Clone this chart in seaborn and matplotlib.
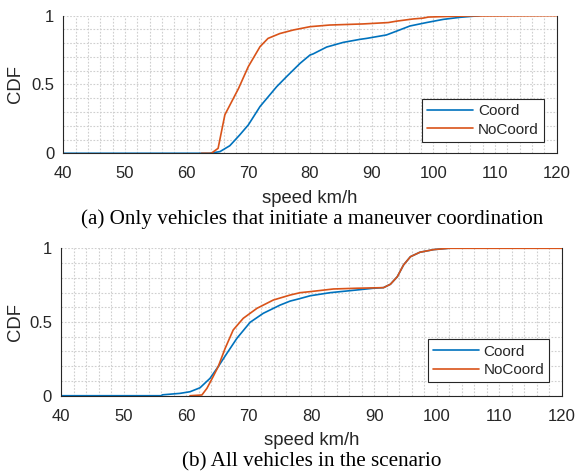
import numpy as np
import pandas as pd
import matplotlib
matplotlib.use("Agg")
import matplotlib.pyplot as plt
import seaborn as sns
from matplotlib.ticker import MultipleLocator

sns.set_theme(style="white")
plt.rcParams['font.family'] = ['Liberation Sans', 'DejaVu Sans']

# (a) vehicles that initiate a maneuver coordination
a_coord_speed = [40, 63.7, 65.4, 67.0, 68.6, 70.0, 71.9, 74.6, 76.2, 78.4, 80.0, 80.5, 82.7, 85.4,
                 88.1, 89.2, 92.4, 94.0, 96.2, 98.9, 101.6, 104.3, 107.0, 107.5]
a_coord_cdf = [0, 0, 0.012, 0.055, 0.133, 0.206, 0.34, 0.484, 0.557, 0.654, 0.714, 0.722, 0.772, 0.806,
               0.828, 0.835, 0.86, 0.887, 0.925, 0.95, 0.973, 0.988, 0.998, 1.0]
a_nocoord_speed = [62.4, 64.0, 65.1, 66.2, 68.4, 70.0, 71.9, 73.2, 75.1, 77.3, 80.0, 83.2, 88.6, 92.7,
                   94.0, 96.7, 98.3, 99.2, 102.0, 105.9, 120]
a_nocoord_cdf = [0, 0, 0.036, 0.28, 0.47, 0.63, 0.775, 0.835, 0.87, 0.896, 0.92, 0.932, 0.94, 0.95,
                 0.96, 0.976, 0.982, 0.99, 0.994, 0.998, 1.0]

# (b) all vehicles in the scenario
b_coord_speed = [40, 56.0, 56.2, 59.0, 60.6, 62.2, 63.8, 65.1, 66.5, 68.1, 70.2, 72.3, 75.0, 76.6,
                 77.9, 79.8, 83.0, 87.2, 89.9, 91.5, 92.6, 93.7, 94.7, 95.8, 97.3, 99.5, 101.9]
b_coord_cdf = [0, 0, 0.006, 0.016, 0.027, 0.054, 0.118, 0.197, 0.288, 0.39, 0.498, 0.559, 0.615, 0.642,
               0.656, 0.678, 0.699, 0.717, 0.729, 0.733, 0.756, 0.807, 0.887, 0.943, 0.973, 0.991, 1.0]
b_nocoord_speed = [60.6, 62.5, 63.3, 64.3, 65.1, 66.2, 67.5, 69.1, 71.3, 73.9, 76.6, 78.2, 79.8, 83.5,
                   87.2, 91.5, 92.6, 93.7, 94.7, 95.8, 97.3, 99.5, 101.9, 120]
b_nocoord_cdf = [0, 0.005, 0.05, 0.13, 0.197, 0.32, 0.446, 0.525, 0.593, 0.649, 0.683, 0.699, 0.706, 0.724,
                 0.729, 0.733, 0.756, 0.807, 0.887, 0.943, 0.973, 0.991, 1.0, 1.0]

captions = ["(a) Only vehicles that initiate a maneuver coordination",
            "(b) All vehicles in the scenario"]

colors = {'Coord': '#0072BD', 'NoCoord': '#D95319'}
tick_col = '#262626'


def make_df(cs, cc, ns, nc):
    d1 = pd.DataFrame({'speed': cs, 'cdf': cc, 'series': 'Coord'})
    d2 = pd.DataFrame({'speed': ns, 'cdf': nc, 'series': 'NoCoord'})
    return pd.concat([d1, d2], ignore_index=True)


panels = [make_df(a_coord_speed, a_coord_cdf, a_nocoord_speed, a_nocoord_cdf),
          make_df(b_coord_speed, b_coord_cdf, b_nocoord_speed, b_nocoord_cdf)]

fig = plt.figure(figsize=(5.77, 4.75), dpi=100)
rects = [[0.1097, 0.6773, 0.8551, 0.2897], [0.1057, 0.1669, 0.8683, 0.3104]]
cap_xy = [(0.541, 0.5379), (0.540, 0.0274)]
xlab_y = [-0.325, -0.307]
ylab_x = [-0.096, -0.090]
leg_anchor = [(0.974, 0.082), (0.975, 0.090)]

for i, df in enumerate(panels):
    ax = fig.add_axes(rects[i])
    sns.lineplot(data=df, x='speed', y='cdf', hue='series', palette=colors, sort=False,
                 estimator=None, linewidth=1.2, ax=ax)
    ax.set_xlim(40, 120)
    ax.set_ylim(0, 1)
    ax.set_xticks(np.arange(40, 121, 10))
    ax.set_yticks([0, 0.5, 1])
    ax.set_yticklabels(['0', '0.5', '1'])
    ax.xaxis.set_minor_locator(MultipleLocator(2))
    ax.yaxis.set_minor_locator(MultipleLocator(0.1))
    ax.grid(True, which='both', color='#cfcfcf', linestyle=(0, (1.5, 1.5)), linewidth=0.8)
    ax.set_axisbelow(True)
    ax.tick_params(axis='x', which='major', direction='in', length=4, width=0.8,
                   labelsize=12, labelcolor=tick_col, color=tick_col, pad=9.5)
    ax.tick_params(axis='y', which='major', direction='in', length=4, width=0.8,
                   labelsize=12, labelcolor=tick_col, color=tick_col, pad=6.5)
    ax.tick_params(axis='both', which='minor', length=0)
    for side in ['left', 'bottom', 'right']:
        ax.spines[side].set_color(tick_col)
        ax.spines[side].set_linewidth(0.8)
    ax.spines['top'].set_visible(False)
    ax.set_xlabel('speed km/h', fontsize=13.3, color=tick_col, va='center')
    ax.xaxis.set_label_coords(0.5, xlab_y[i])
    ax.set_ylabel('CDF', fontsize=13.3, color=tick_col, va='center')
    ax.yaxis.set_label_coords(ylab_x[i], 0.5)
    ax.legend(loc='lower right', bbox_to_anchor=leg_anchor[i], borderaxespad=0,
              fontsize=11, handlelength=3.0, handletextpad=0.3, frameon=True, fancybox=False,
              edgecolor='#262626', framealpha=1, borderpad=0.35, labelspacing=0.3)
    ax.get_legend().get_frame().set_linewidth(0.8)
    fig.text(cap_xy[i][0], cap_xy[i][1], captions[i], ha='center', va='center', fontsize=15.2,
             family='Liberation Serif', color='black')

fig.savefig('out.png', dpi=100)
